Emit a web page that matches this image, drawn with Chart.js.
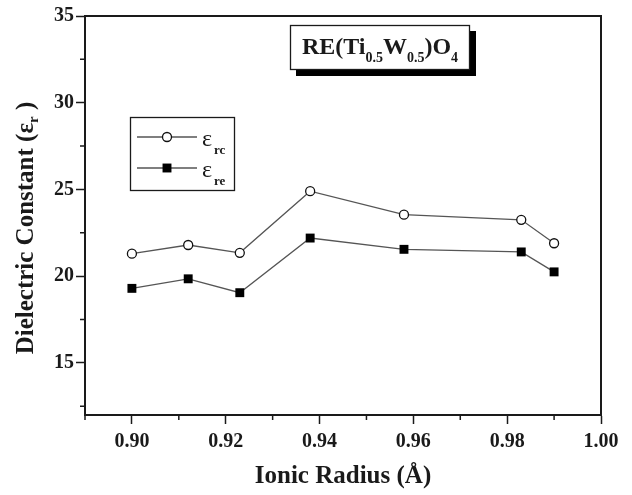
<!DOCTYPE html>
<html>
<head>
<meta charset="utf-8">
<script src="https://cdn.jsdelivr.net/npm/chart.js@4"></script>
<style>
  body { margin: 0; background: #fff; }
  canvas { display: block; }
</style>
</head>
<body>
<canvas id="chart" width="632" height="495"></canvas>
<script>
// data
const radius = [0.900, 0.912, 0.923, 0.938, 0.958, 0.983, 0.990];
const epsRc = [21.3, 21.8, 21.35, 24.9, 23.55, 23.25, 21.9];
const epsRe = [19.3, 19.85, 19.05, 22.2, 21.55, 21.4, 20.25];

const xTicks = [0.90, 0.92, 0.94, 0.96, 0.98, 1.00];
const xMinor = [0.89, 0.91, 0.93, 0.95, 0.97, 0.99];
const yTicks = [15, 20, 25, 30, 35];
const yMinor = [12.5, 17.5, 22.5, 27.5, 32.5];

const legendLabels = [['ε', 'rc'], ['ε', 're']];
const serif = "'Liberation Serif', 'Times New Roman', serif";
const ink = '#1a1a1a';

function toPoints(ys) {
  return radius.map((x, i) => ({ x: x, y: ys[i] }));
}

// box, minor ticks, y title, legend and formula label
const extras = {
  id: 'extras',
  afterDraw(chart) {
    const ctx = chart.ctx;
    const a = chart.chartArea;
    const xs = chart.scales.x, ys = chart.scales.y;
    ctx.save();

    // top + right frame
    ctx.strokeStyle = ink;
    ctx.lineWidth = 2;
    ctx.beginPath();
    ctx.moveTo(a.left, a.top);
    ctx.lineTo(a.right, a.top);
    ctx.lineTo(a.right, a.bottom);
    ctx.stroke();

    // minor ticks
    ctx.lineWidth = 1.5;
    ctx.beginPath();
    xMinor.forEach(v => {
      const px = xs.getPixelForValue(v);
      ctx.moveTo(px, a.bottom);
      ctx.lineTo(px, a.bottom + 5);
    });
    yMinor.forEach(v => {
      const py = ys.getPixelForValue(v);
      ctx.moveTo(a.left, py);
      ctx.lineTo(a.left - 5, py);
    });
    ctx.stroke();

    // y axis title with subscript
    ctx.fillStyle = ink;
    ctx.textBaseline = 'alphabetic';
    const big = 'bold 25px ' + serif;
    const small = 'bold 15px ' + serif;
    const t1 = 'Dielectric Constant (ε', t2 = 'r', t3 = ' )';
    ctx.font = big;
    const w1 = ctx.measureText(t1).width, w3 = ctx.measureText(t3).width;
    ctx.font = small;
    const w2 = ctx.measureText(t2).width;
    const total = w1 + w2 + w3;
    ctx.translate(33, 228);
    ctx.rotate(-Math.PI / 2);
    let cx = -total / 2;
    ctx.font = big;
    ctx.fillText(t1, cx, 0);
    cx += w1;
    ctx.font = small;
    ctx.fillText(t2, cx, 5);
    cx += w2;
    ctx.font = big;
    ctx.fillText(t3, cx, 0);
    ctx.setTransform(1, 0, 0, 1, 0, 0);

    // legend
    ctx.strokeStyle = ink;
    ctx.lineWidth = 1.3;
    ctx.strokeRect(130.5, 117.5, 104, 73);
    const rows = [137, 168];
    chart.data.datasets.forEach((ds, i) => {
      const y = rows[i];
      ctx.strokeStyle = ds.borderColor;
      ctx.lineWidth = ds.borderWidth;
      ctx.beginPath();
      ctx.moveTo(137, y);
      ctx.lineTo(197, y);
      ctx.stroke();
      ctx.lineWidth = ds.pointBorderWidth;
      ctx.strokeStyle = ds.pointBorderColor;
      ctx.fillStyle = ds.pointBackgroundColor;
      if (ds.pointStyle === 'circle') {
        ctx.beginPath();
        ctx.arc(167, y, ds.pointRadius, 0, Math.PI * 2);
        ctx.fill();
        ctx.stroke();
      } else {
        const s = ds.pointRadius * Math.SQRT1_2;
        ctx.fillRect(167 - s, y - s, 2 * s, 2 * s);
      }
      ctx.fillStyle = ink;
      ctx.font = '24px ' + serif;
      ctx.fillText(legendLabels[i][0], 202, y + 9);
      ctx.font = 'bold 13px ' + serif;
      ctx.fillText(legendLabels[i][1], 214, y + 17);
    });

    // formula label with drop shadow
    ctx.fillStyle = '#000';
    ctx.fillRect(296, 31, 180, 45);
    ctx.fillStyle = '#fff';
    ctx.fillRect(290, 25, 180, 45);
    ctx.strokeStyle = ink;
    ctx.lineWidth = 1.3;
    ctx.strokeRect(290.5, 25.5, 179, 44);
    const parts = [['RE(Ti', 0], ['0.5', 1], ['W', 0], ['0.5', 1], [')O', 0], ['4', 1]];
    const fBig = 'bold 24px ' + serif, fSub = 'bold 14px ' + serif;
    let fw = 0;
    parts.forEach(p => { ctx.font = p[1] ? fSub : fBig; fw += ctx.measureText(p[0]).width; });
    let fx = 380 - fw / 2;
    ctx.fillStyle = ink;
    parts.forEach(p => {
      ctx.font = p[1] ? fSub : fBig;
      ctx.fillText(p[0], fx, p[1] ? 62 : 54);
      fx += ctx.measureText(p[0]).width;
    });

    ctx.restore();
  }
};

const tickFont = { family: serif, size: 20, weight: 'bold' };

new Chart(document.getElementById('chart'), {
  type: 'scatter',
  data: {
    datasets: [
      {
        label: 'εrc',
        data: toPoints(epsRc),
        showLine: true,
        borderColor: '#555',
        borderWidth: 1.3,
        pointStyle: 'circle',
        pointRadius: 4.5,
        pointBackgroundColor: '#fff',
        pointBorderColor: '#111',
        pointBorderWidth: 1.3
      },
      {
        label: 'εre',
        data: toPoints(epsRe),
        showLine: true,
        borderColor: '#555',
        borderWidth: 1.3,
        pointStyle: 'rect',
        pointRadius: 6.3,
        pointBackgroundColor: '#000',
        pointBorderColor: '#000',
        pointBorderWidth: 0
      }
    ]
  },
  options: {
    responsive: false,
    animation: false,
    layout: { padding: { top: 16, right: 31, left: 0, bottom: 0 } },
    plugins: { legend: { display: false }, tooltip: { enabled: false } },
    scales: {
      x: {
        type: 'linear',
        min: 0.89,
        max: 1.00,
        afterBuildTicks: s => { s.ticks = xTicks.map(v => ({ value: v })); },
        afterFit: s => { s.height = 80; },
        ticks: {
          callback: v => Number(v).toFixed(2),
          font: tickFont,
          color: ink,
          padding: 6,
          maxRotation: 0,
          autoSkip: false
        },
        grid: { drawOnChartArea: false, tickLength: 9, tickWidth: 1.5, tickColor: ink },
        border: { width: 2, color: ink },
        title: {
          display: true,
          text: 'Ionic Radius (Å)',
          font: { family: serif, size: 25, weight: 'bold' },
          color: ink,
          padding: { top: 0, bottom: 3 }
        }
      },
      y: {
        min: 12,
        max: 35,
        afterBuildTicks: s => { s.ticks = yTicks.map(v => ({ value: v })); },
        afterFit: s => { s.width = 85; },
        ticks: {
          callback: v => String(v),
          font: tickFont,
          color: ink,
          padding: 2,
          autoSkip: false
        },
        grid: { drawOnChartArea: false, tickLength: 9, tickWidth: 1.5, tickColor: ink },
        border: { width: 2, color: ink }
      }
    }
  },
  plugins: [extras]
});
</script>
</body>
</html>
